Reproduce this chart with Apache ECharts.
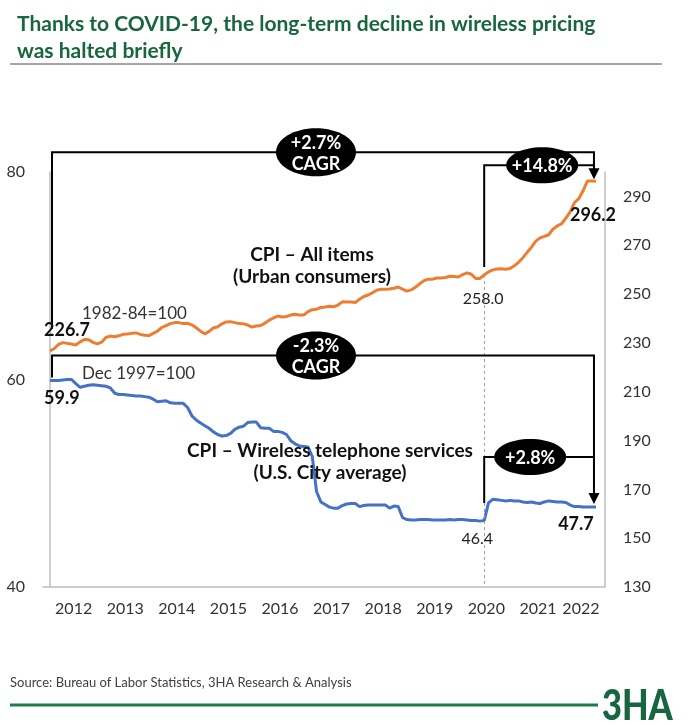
<!DOCTYPE html>
<html><head><meta charset="utf-8">
<script src="https://cdn.jsdelivr.net/npm/echarts@6/dist/echarts.min.js"></script>
<style>html,body{margin:0;padding:0;background:#fff}#c{width:700px;height:725px}</style>
</head><body><div id="c"></div>
<script>
// Monthly data, Jan 2012 .. Aug 2022 (index 0..127)
const yearLabels = ['2012','2013','2014','2015','2016','2017','2018','2019','2020','2021','2022'];
const yearLabelPos = [5.5,17.5,29.5,41.5,53.5,65.5,77.5,89.5,101.5,113.5,123.5];
const leftTicks = [40, 80, 20];   // min, max, step (Dec 1997=100)
const rightTicks = [130, 300, 20]; // min, max, step (1982-84=100)
const markIndex = 101; // dashed marker month

const cpiAllItems = [
 226.7,227.7,229.4,230.1,229.8,229.5,229.1,230.4,231.4,231.3,230.2,229.6,
 230.3,232.2,232.8,232.5,232.9,233.5,233.6,233.9,234.1,233.5,233.1,233.0,
 233.9,234.8,236.3,237.1,237.9,238.3,238.3,237.9,238.0,237.4,236.2,234.8,
 233.7,234.7,236.1,236.6,237.8,238.6,238.7,238.3,237.9,237.8,237.3,236.5,
 236.9,237.1,238.1,239.3,240.2,241.0,240.6,240.8,241.4,241.7,241.4,241.4,
 242.8,243.6,243.8,244.5,244.7,245.0,244.8,245.5,246.8,246.7,246.7,246.5,
 247.9,249.0,249.6,250.5,251.6,252.0,252.0,252.1,252.4,252.9,252.0,251.2,
 251.7,252.8,254.2,255.5,256.1,256.1,256.6,256.6,256.8,257.3,257.2,257.0,
 258.0,258.7,258.1,256.4,256.4,257.8,259.1,259.9,260.3,260.4,260.2,260.5,
 261.6,263.0,264.9,267.1,269.2,271.7,273.0,273.6,274.3,276.6,277.9,278.8,
 281.1,283.7,287.5,289.1,292.3,296.3,296.3,296.2
];
const cpiWireless = [
 59.9,59.9,59.9,59.95,60.0,60.0,59.6,59.25,59.35,59.45,59.5,59.45,
 59.4,59.35,59.2,58.7,58.55,58.55,58.5,58.45,58.4,58.4,58.35,58.3,
 58.1,57.85,57.9,57.95,57.75,57.7,57.7,57.7,57.3,56.5,56.1,55.8,
 55.55,55.3,54.95,54.7,54.55,54.6,54.8,55.2,55.4,55.5,55.85,55.9,
 55.9,55.35,55.3,55.3,55.0,55.0,54.9,54.7,54.1,53.8,53.6,53.55,
 53.5,52.6,49.2,48.2,47.95,47.7,47.6,47.6,47.85,48.0,48.05,48.05,
 47.75,47.85,47.9,47.9,47.9,47.9,47.9,47.6,47.8,47.75,46.7,46.5,
 46.45,46.45,46.5,46.5,46.5,46.45,46.45,46.45,46.45,46.5,46.45,46.5,
 46.5,46.45,46.4,46.4,46.35,46.4,48.1,48.45,48.4,48.35,48.3,48.35,
 48.3,48.3,48.2,48.15,48.2,48.1,48.05,48.2,48.3,48.25,48.2,48.2,
 48.15,47.9,47.75,47.75,47.7,47.7,47.7,47.7
];

const FONT = 'Lato, "Noto Sans", sans-serif';
const GREEN = '#17663f';
const AXIS_GRAY = '#bfbfbf';

const chart = echarts.init(document.getElementById('c'), null, {renderer: 'canvas'});
const option = {
  animation: false,
  backgroundColor: '#fff',
  textStyle: {fontFamily: FONT},
  title: {
    text: 'Thanks to COVID-19, the long-term decline in wireless pricing\nwas halted briefly',
    left: 12, top: 6,
    textStyle: {fontFamily: FONT, fontSize: 21, fontWeight: 'bold', color: GREEN, lineHeight: 27}
  },
  grid: {left: 43, right: 95, top: 172, bottom: 138, containLabel: false, outerBoundsMode: 'none'},
  xAxis: {
    type: 'value', min: -1.63, max: 129.1,
    axisLine: {show: true, lineStyle: {color: AXIS_GRAY, width: 1.5}},
    axisTick: {show: false}, splitLine: {show: false},
    axisLabel: {
      customValues: yearLabelPos, margin: 14, fontSize: 16, color: '#333', fontFamily: FONT,
      formatter: v => { const k = yearLabelPos.indexOf(v); return k >= 0 ? yearLabels[k] : ''; }
    }
  },
  yAxis: [
    {type: 'value', position: 'left', min: leftTicks[0], max: leftTicks[1], interval: leftTicks[2],
     axisLine: {show: true, lineStyle: {color: AXIS_GRAY, width: 1.5}},
     axisTick: {show: false}, splitLine: {show: false},
     axisLabel: {margin: 18, fontSize: 16, color: '#333', fontFamily: FONT}},
    {type: 'value', position: 'right', min: rightTicks[0], max: rightTicks[1], interval: rightTicks[2],
     axisLine: {show: true, lineStyle: {color: AXIS_GRAY, width: 1.5}},
     axisTick: {show: false}, splitLine: {show: false},
     axisLabel: {margin: 18, fontSize: 16, color: '#333', fontFamily: FONT, showMaxLabel: false}}
  ],
  series: [
    {type: 'line', name: 'CPI – All items', yAxisIndex: 1, showSymbol: false, z: 3,
     data: cpiAllItems.map((v, i) => [i, v]),
     lineStyle: {color: '#ED7D31', width: 3}, itemStyle: {color: '#ED7D31'},
     markLine: {silent: true, symbol: 'none', label: {show: false},
       lineStyle: {color: '#a0a0a0', type: [3, 3], width: 1},
       data: [[{coord: [markIndex, cpiAllItems[markIndex]]}, {coord: [markIndex, rightTicks[0]]}]]}},
    {type: 'line', name: 'CPI – Wireless', yAxisIndex: 0, showSymbol: false, z: 3,
     data: cpiWireless.map((v, i) => [i, v]),
     lineStyle: {color: '#4472C4', width: 3}, itemStyle: {color: '#4472C4'}}
  ]
};
chart.setOption(option);

const PO = (i, v) => chart.convertToPixel({seriesIndex: 0}, [i, v]);
const PB = (i, v) => chart.convertToPixel({seriesIndex: 1}, [i, v]);
const last = cpiAllItems.length - 1;
const oS = PO(0, cpiAllItems[0]), oM = PO(markIndex, cpiAllItems[markIndex]), oE = PO(last, cpiAllItems[last]);
const bS = PB(0, cpiWireless[0]), bM = PB(markIndex, cpiWireless[markIndex]), bJ = PB(markIndex + 1, cpiWireless[markIndex + 1]), bE = PB(last, cpiWireless[last]);
const xL = oS[0] + 2, xM = oM[0], xR = oE[0] - 2;

const yTop = oE[1] - 29, y148 = oE[1] - 16;
const y23 = bS[1] - 25, y28 = bE[1] - 50;

const g = [];
const line = (pts) => g.push({type: 'polyline', shape: {points: pts}, style: {stroke: '#000', lineWidth: 2, fill: null}, z: 50});
const arrow = (x, tipY) => g.push({type: 'polygon', shape: {points: [[x - 5.5, tipY - 11], [x + 5.5, tipY - 11], [x, tipY]]}, style: {fill: '#000'}, z: 51});
const oval = (cx, cy, rx, ry, txt) => {
  g.push({type: 'ellipse', shape: {cx, cy, rx, ry}, style: {fill: '#000'}, z: 52});
  g.push({type: 'text', x: cx, y: cy + 1, z: 53, style: {text: txt, fill: '#fff', font: 'bold 18px ' + FONT, align: 'center', verticalAlign: 'middle', lineHeight: 21}});
};
const label = (x, y, txt, opt) => g.push({type: 'text', x, y, z: 54, style: Object.assign({text: txt, fill: '#111', font: 'bold 18px ' + FONT, align: 'center', verticalAlign: 'middle'}, opt || {})});

// orange brackets
line([[xL, oS[1] - 22], [xL, yTop], [xR, yTop], [xR, oE[1] - 12]]);
arrow(xR, oE[1] - 2);
line([[xM, oM[1] - 8], [xM, y148], [xR, y148]]);
oval((xL + xR) / 2 - 7, yTop, 40, 24, '+2.7%\nCAGR');
oval(xM + 58, y148, 36, 18, '+14.8%');
// blue brackets
line([[xL, bS[1] - 3], [xL, y23], [xR, y23], [xR, bE[1] - 14]]);
arrow(xR, bE[1] - 3);
line([[xM, bJ[1]], [xM, y28], [xR, y28]]);
oval((xL + xR) / 2 - 7, y23, 40, 24, '-2.3%\nCAGR');
oval(xM + 46, y28, 36, 18, '+2.8%');

// value labels
label(oS[0] - 6, oS[1] - 21, '226.7', {align: 'left'});
label(oS[0] + 32, oS[1] - 37, '1982-84=100', {align: 'left', font: '17px ' + FONT, fill: '#333'});
label(312, 266, 'CPI – All items\n(Urban consumers)', {lineHeight: 22, font: 'bold 19px ' + FONT});
label(oM[0] - 1, oM[1] + 24, '258.0', {font: '16px ' + FONT, fill: '#222'});
label(oE[0] - 3, oE[1] + 34, '296.2');
label(bS[0] - 6, bS[1] + 18, '59.9', {align: 'left'});
label(bS[0] + 32, bS[1] - 7, 'Dec 1997=100', {align: 'left', font: '17px ' + FONT, fill: '#333'});
label(330, 462, 'CPI – Wireless telephone services\n(U.S. City average)', {lineHeight: 22, font: 'bold 19px ' + FONT});
label(bM[0] - 7, bM[1] + 18, '46.4', {font: '16px ' + FONT, fill: '#222'});
label(bE[0] - 20, bE[1] + 17, '47.7');

// frame decorations
g.push({type: 'line', shape: {x1: 10, y1: 64, x2: 662, y2: 64}, style: {stroke: '#a6a6a6', lineWidth: 2}});
g.push({type: 'text', x: 10, y: 683, style: {text: 'Source: Bureau of Labor Statistics, 3HA Research & Analysis', font: '13px ' + FONT, fill: '#404040', verticalAlign: 'middle'}});
g.push({type: 'line', shape: {x1: 10, y1: 705, x2: 598, y2: 705}, style: {stroke: '#1f7a4c', lineWidth: 3}});
g.push({type: 'text', x: 602, y: 706, scaleX: 0.82, style: {text: '3HA', font: '900 42px ' + FONT, fill: GREEN, verticalAlign: 'middle'}});

chart.setOption({graphic: {elements: g}});
</script>
</body></html>
